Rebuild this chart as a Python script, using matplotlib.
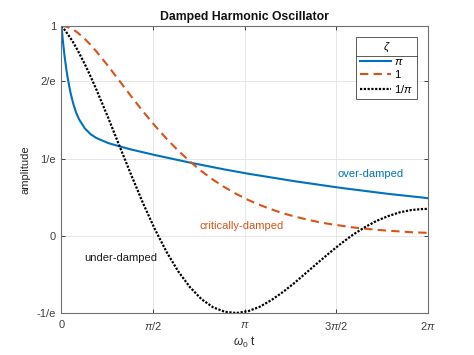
import matplotlib
matplotlib.use("Agg")
import matplotlib.pyplot as plt
import numpy as np
from matplotlib.lines import Line2D

plt.rcParams["font.family"] = ["Liberation Sans", "DejaVu Sans"]
plt.rcParams["mathtext.fontset"] = "custom"
plt.rcParams["mathtext.rm"] = "Liberation Sans"
plt.rcParams["mathtext.it"] = "Liberation Sans:italic"

BLUE, ORANGE, BLACK, AXC = "#0072BD", "#D95319", "#000000", "#262626"

# omega_0 t (rad), read along the x axis
t = [0, 0.025, 0.05, 0.075, 0.1, 0.15, 0.2, 0.25, 0.3, 0.4, 0.5, 0.6, 0.8,
     1.0, 1.2, 1.4, 1.6, 1.8, 2.0, 2.2, 2.4, 2.6, 2.8, 3.0, 3.2, 3.4, 3.6,
     3.8, 4.0, 4.2, 4.4, 4.6, 4.8, 5.0, 5.2, 5.4, 5.6, 5.8, 6.0, 6.2, 6.2832]
# zeta = pi (over-damped)
over = [1.000, 0.927, 0.864, 0.810, 0.763, 0.688, 0.631, 0.588, 0.556, 0.512,
        0.484, 0.466, 0.442, 0.426, 0.411, 0.398, 0.385, 0.373, 0.361, 0.349,
        0.338, 0.327, 0.316, 0.306, 0.296, 0.287, 0.278, 0.269, 0.260, 0.252,
        0.244, 0.236, 0.228, 0.221, 0.214, 0.207, 0.200, 0.194, 0.188, 0.182,
        0.179]
# zeta = 1 (critically damped)
crit = [1.000, 1.000, 0.999, 0.997, 0.995, 0.990, 0.982, 0.974, 0.963, 0.938,
        0.910, 0.878, 0.809, 0.736, 0.663, 0.592, 0.525, 0.463, 0.406, 0.355,
        0.308, 0.267, 0.231, 0.199, 0.171, 0.147, 0.126, 0.107, 0.092, 0.078,
        0.066, 0.056, 0.048, 0.040, 0.034, 0.029, 0.024, 0.021, 0.017, 0.015,
        0.014]
# zeta = 1/pi (under-damped)
under = [1.000, 0.992, 0.983, 0.974, 0.964, 0.944, 0.922, 0.898, 0.872, 0.818,
         0.759, 0.696, 0.563, 0.424, 0.287, 0.154, 0.032, -0.076, -0.169,
         -0.244, -0.302, -0.341, -0.362, -0.368, -0.359, -0.338, -0.306,
         -0.267, -0.223, -0.175, -0.127, -0.080, -0.035, 0.006, 0.041, 0.071,
         0.094, 0.112, 0.123, 0.128, 0.128]

xtick_pos = [0, np.pi / 2, np.pi, 3 * np.pi / 2, 2 * np.pi]
xtick_lab = ["0", r"$\pi$/2", r"$\pi$", r"3$\pi$/2", r"2$\pi$"]
ytick_pos = [-1 / np.e, 0, 1 / np.e, 2 / np.e, 1]
ytick_lab = ["-1/e", "0", "1/e", "2/e", "1"]

fig = plt.figure(figsize=(4.74, 3.55), dpi=100)
ax = fig.add_axes([0.1297, 0.1183, 0.7733, 0.8085])

ax.plot(t, over, color=BLUE, lw=1.5, label=r"$\pi$")
ax.plot(t, crit, color=ORANGE, lw=1.5, ls=(0, (4, 2.5)), label="1")
ax.plot(t, under, color=BLACK, lw=1.6, ls=(0, (1, 0.7)), label=r"1/$\pi$")

ax.set_xlim(0, 2 * np.pi)
ax.set_ylim(-1 / np.e, 1)
ax.set_xticks(xtick_pos, xtick_lab)
ax.set_yticks(ytick_pos, ytick_lab)
ax.tick_params(direction="in", top=True, right=True, length=3, width=0.6,
               labelsize=8, colors=AXC, labelcolor="#404040")
ax.tick_params(axis="x", pad=5)
ax.tick_params(axis="y", pad=4)
for s in ax.spines.values():
    s.set_color("#707070"); s.set_linewidth(0.8)
ax.grid(True, color="#e3e3e3", lw=0.6)
ax.set_axisbelow(True)

ax.set_title("Damped Harmonic Oscillator", fontsize=8.8, fontweight="bold", color="#111111", pad=4)
ax.set_xlabel(r"$\omega_0$ t", fontsize=8.5, color="#262626", labelpad=2)
ax.set_ylabel("amplitude", fontsize=8, color="#262626", labelpad=4)

ax.text(5.29, 0.295, "over-damped", color=BLUE, ha="center", va="center", fontsize=8)
ax.text(3.08, 0.048, "critically-damped", color=ORANGE, ha="center", va="center", fontsize=8)
ax.text(1.02, -0.106, "under-damped", color="#1a1a1a", ha="center", va="center", fontsize=8)

leg = ax.legend(title=r"$\zeta$", loc="upper right", fontsize=8, title_fontsize=8,
                fancybox=False, edgecolor="#404040", framealpha=1,
                handlelength=2.8, handletextpad=0.3, labelspacing=0.25,
                borderpad=0.35, borderaxespad=1.0)
leg.get_frame().set_linewidth(0.6)

fig.canvas.draw()
lb = leg.get_window_extent()
tb = leg.get_title().get_window_extent()
inv = fig.transFigure.inverted()
(x0, y0), (x1, _) = inv.transform([(lb.x0, tb.y0 - 2), (lb.x1, tb.y0 - 2)])
fig.add_artist(Line2D([x0, x1], [y0, y0], color="#404040", lw=0.6, transform=fig.transFigure))

fig.savefig("out.png", dpi=100)
